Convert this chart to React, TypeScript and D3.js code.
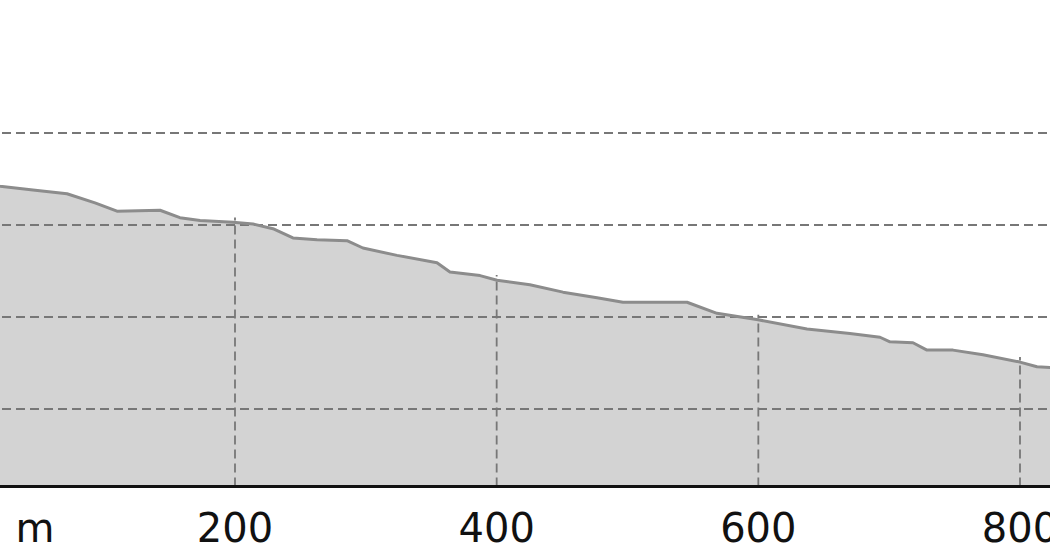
import { area, line, scaleLinear } from "d3";

const distances = [
  0, 20.4, 45.6, 71.6, 93.0, 109.8, 142.7, 157.9, 173.3, 198.5, 213.8, 229.0, 244.3, 262.7,
  285.6, 297.8, 323.8, 354.4, 364.3, 387.3, 400.3, 425.4, 450.7, 476.7, 496.5, 545.5, 568.4,
  599.8, 637.2, 670.0, 693.0, 700.6, 718.2, 728.9, 748.8, 771.7, 800.0, 813.0, 822.9, 838.0,
];
const elevations = [
  134.6, 134.2, 133.8, 133.4, 132.4, 131.5, 131.6, 130.8, 130.5, 130.3, 130.1, 129.6, 128.6,
  128.4, 128.3, 127.5, 126.7, 125.9, 124.9, 124.5, 124.0, 123.5, 122.7, 122.1, 121.6, 121.6,
  120.4, 119.7, 118.7, 118.2, 117.8, 117.3, 117.2, 116.4, 116.4, 115.9, 115.1, 114.6, 114.5,
  114.2,
];
const xTicks = [200, 400, 600, 800];
const yGrid = [110, 120, 130, 140];
const unitLabel = "m";

const width = 1050;
const height = 560;
const baseY = 486.5;

export default function App() {
  const x = scaleLinear([200, 800], [235, 1020]);
  const y = scaleLinear([110, 140], [409, 133]);
  const pts = distances.map((d, i) => [d, elevations[i]] as [number, number]);

  const areaPath = area<[number, number]>()
    .x((d) => x(d[0]))
    .y0(baseY + 1.5)
    .y1((d) => y(d[1]))(pts);
  const linePath = line<[number, number]>()
    .x((d) => x(d[0]))
    .y((d) => y(d[1]))(pts);

  // elevation at a given distance, linear between the read points
  const elevAt = (d: number) => {
    const i = distances.findIndex((v) => v >= d);
    if (i <= 0) return elevations[0];
    const t = (d - distances[i - 1]) / (distances[i] - distances[i - 1]);
    return elevations[i - 1] + t * (elevations[i] - elevations[i - 1]);
  };

  return (
    <svg
      width={width}
      height={height}
      style={{ position: "absolute", left: 0, top: 0, background: "#fff" }}
    >
      {areaPath && <path d={areaPath} fill="#d3d3d3" />}
      {yGrid.map((v) => (
        <line
          key={v}
          x1={0}
          x2={width}
          y1={y(v)}
          y2={y(v)}
          stroke="#777"
          strokeWidth={1.8}
          strokeDasharray="9 5"
          strokeDashoffset={-2}
        />
      ))}
      {xTicks.map((t) => (
        <line
          key={t}
          x1={x(t)}
          x2={x(t)}
          y1={baseY}
          y2={y(elevAt(t)) - 5}
          stroke="#777"
          strokeWidth={1.8}
          strokeDasharray="9 5"
        />
      ))}
      {linePath && (
        <path d={linePath} fill="none" stroke="#8c8c8c" strokeWidth={3} strokeLinejoin="round" />
      )}
      <line x1={0} x2={width} y1={baseY} y2={baseY} stroke="#111" strokeWidth={3} />
      <g fontFamily="DejaVu Sans" fontSize={40} fill="#111" textAnchor="middle">
        {xTicks.map((t) => (
          <text key={t} x={x(t)} y={542}>
            {t}
          </text>
        ))}
        <text x={35} y={542}>
          {unitLabel}
        </text>
      </g>
    </svg>
  );
}
